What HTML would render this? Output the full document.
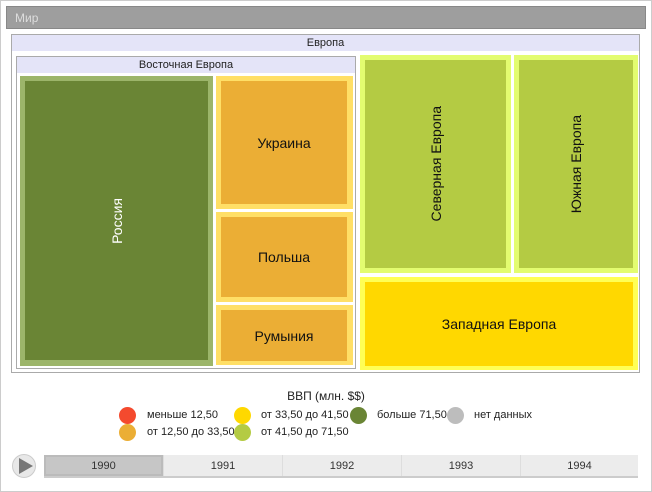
<!DOCTYPE html>
<html><head><meta charset="utf-8"><style>
body{margin:0;width:652px;height:492px;background:#fff;font-family:"Liberation Sans",sans-serif;position:relative;overflow:hidden}
div{position:absolute;box-sizing:border-box}
.t{display:flex;align-items:center;justify-content:center;font-size:14px;color:#111}
.v{writing-mode:vertical-rl;transform:rotate(180deg)}
.leg{font-size:11px;color:#222}
.dot{width:17px;height:17px;border-radius:50%}
.yr{top:455px;height:21px;width:119px;background:#ececec;border-left:1px solid #ddd;font-size:11px;color:#333;display:flex;align-items:center;justify-content:center}
</style></head><body>
<div style="left:0;top:0;width:652px;height:492px;border:1px solid #ccc"></div>
<div style="left:6px;top:6px;width:640px;height:23px;background:#9e9e9e;border:1px solid #888;color:#ddd;font-size:12px;padding:4px 0 0 8px">Мир</div>
<div style="left:11px;top:34px;width:629px;height:339px;border:1px solid #aaa"></div>
<div style="left:12px;top:35px;width:627px;height:16px;background:#e4e4f8;font-size:11px;color:#222;text-align:center;line-height:16px">Европа</div>
<div style="left:16px;top:56px;width:340px;height:313px;border:1px solid #aaa"></div>
<div style="left:17px;top:57px;width:338px;height:16px;background:#e4e4f8;font-size:11px;color:#222;text-align:center;line-height:16px">Восточная Европа</div>
<div style="left:20px;top:76px;width:193px;height:290px;background:#9cb56a"></div>
<div class="t" style="left:25px;top:81px;width:183px;height:279px;background:#6a8535;color:#fff"><span class="v">Россия</span></div>
<div style="left:216px;top:76px;width:137px;height:133px;background:#ffdf66"></div>
<div class="t" style="left:221px;top:81px;width:126px;height:123px;background:#ebae35">Украина</div>
<div style="left:216px;top:212px;width:137px;height:90px;background:#ffdf66"></div>
<div class="t" style="left:221px;top:217px;width:126px;height:80px;background:#ebae35">Польша</div>
<div style="left:216px;top:305px;width:137px;height:60px;background:#ffdf66"></div>
<div class="t" style="left:221px;top:310px;width:126px;height:51px;background:#ebae35">Румыния</div>
<div style="left:360px;top:55px;width:151px;height:218px;background:#e3fc70"></div>
<div class="t" style="left:365px;top:60px;width:141px;height:208px;background:#b4cb43"><span class="v">Северная Европа</span></div>
<div style="left:514px;top:55px;width:124px;height:218px;background:#e3fc70"></div>
<div class="t" style="left:519px;top:60px;width:114px;height:208px;background:#b4cb43"><span class="v">Южная Европа</span></div>
<div style="left:360px;top:277px;width:278px;height:93px;background:#ffff55"></div>
<div class="t" style="left:365px;top:282px;width:268px;height:84px;background:#ffd800">Западная Европа</div>
<div style="left:0;top:389px;width:652px;text-align:center;font-size:12px;color:#222">ВВП (млн. $$)</div>
<div class="dot" style="left:119px;top:407px;background:#f44a2e"></div>
<div class="leg" style="left:147px;top:409px">меньше 12,50</div>
<div class="dot" style="left:234px;top:407px;background:#ffd800"></div>
<div class="leg" style="left:261px;top:409px">от 33,50 до 41,50</div>
<div class="dot" style="left:350px;top:407px;background:#6a8535"></div>
<div class="leg" style="left:377px;top:409px">больше 71,50</div>
<div class="dot" style="left:447px;top:407px;background:#bdbdbd"></div>
<div class="leg" style="left:474px;top:409px">нет данных</div>
<div class="dot" style="left:119px;top:424px;background:#ebae35"></div>
<div class="leg" style="left:147px;top:426px">от 12,50 до 33,50</div>
<div class="dot" style="left:234px;top:424px;background:#b4cb43"></div>
<div class="leg" style="left:261px;top:426px">от 41,50 до 71,50</div>
<div style="left:12px;top:454px;width:24px;height:24px;border-radius:50%;background:#e8e8e8;border:1px solid #ccc"></div>
<div style="left:19px;top:458px;width:0;height:0;border-left:14px solid #777;border-top:8px solid transparent;border-bottom:8px solid transparent"></div>
<div style="left:44px;top:476px;width:594px;height:2px;background:#ccc"></div>
<div class="yr" style="left:44px;background:#c6c6c6;border:2px solid #bbb">1990</div>
<div class="yr" style="left:163px">1991</div>
<div class="yr" style="left:282px">1992</div>
<div class="yr" style="left:401px">1993</div>
<div class="yr" style="left:520px;width:118px">1994</div>
</body></html>
